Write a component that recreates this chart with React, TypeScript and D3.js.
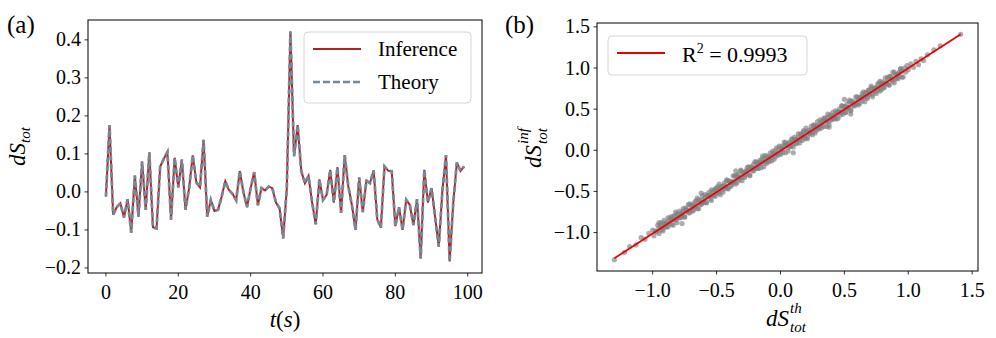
import * as d3 from 'd3';

// (a) entropy production per step (t = 0..99)
const inferenceValues = [
  -0.012, 0.176, -0.06, -0.04, -0.03, -0.067, -0.019, -0.107, 0.043, -0.065,
  0.08, -0.047, 0.104, -0.093, -0.096, 0.067, 0.087, 0.105, -0.073, 0.09,
  0.012, 0.085, -0.047, 0.01, 0.096, 0.025, 0.012, 0.137, -0.065, -0.021,
  -0.05, -0.047, -0.012, 0.028, 0.005, -0.005, -0.022, 0.055, 0.0, -0.04,
  0.01, 0.052, -0.035, 0.01, 0.004, 0.014, 0.01, -0.028, -0.043, -0.122,
  0.01, 0.422, 0.094, 0.176, 0.055, 0.023, 0.042, -0.028, -0.085, 0.033,
  -0.021, -0.008, 0.058, -0.028, 0.065, -0.055, 0.097, 0.015, -0.035, -0.1,
  0.038, -0.053, 0.03, 0.023, 0.057, -0.072, -0.094, 0.067, 0.056, 0.054,
  -0.09, -0.04, -0.1, -0.021, -0.034, -0.087, -0.019, -0.175, 0.058, -0.028,
  0.01, -0.067, -0.144, 0.003, 0.097, -0.183, -0.03, 0.078, 0.055, 0.067,
];
// theory curve lies on top of the inference curve at this resolution
const theoryValues = [...inferenceValues];

const leftXTicks = [0, 20, 40, 60, 80, 100];
const leftYTicks = [-0.2, -0.1, 0.0, 0.1, 0.2, 0.3, 0.4];

// (b) scatter of inferred vs theoretical values
const scatterPoints: [number, number][] = [
  [-1.3, -1.33], [-1.22, -1.24], [-1.18, -1.17], [-1.13, -1.15], [-1.09, -1.06],
  [-1.06, -1.08], [-1.03, -1.01], [-0.95, -0.88], [-0.77, -0.89], [-0.62, -0.52],
  [-0.35, -0.25], [0.1, -0.03], [0.38, 0.28], [0.55, 0.44], [0.5, 0.62],
  [1.02, 1.05], [1.04, 1.01], [1.06, 1.08], [1.08, 1.04], [1.1, 1.11],
  [1.12, 1.09], [1.15, 1.16], [1.2, 1.22], [1.25, 1.27], [1.41, 1.41],
  [-1.0, -0.97], [-0.99, -1.04], [-0.98, -0.98], [-0.97, -0.99], [-0.96, -0.91],
  [-0.95, -1.01], [-0.94, -0.9], [-0.93, -0.94], [-0.92, -0.96], [-0.91, -0.85],
  [-0.9, -0.93], [-0.89, -0.88], [-0.88, -0.93], [-0.87, -0.85], [-0.86, -0.81],
  [-0.85, -0.84], [-0.84, -0.91], [-0.83, -0.8], [-0.82, -0.85], [-0.81, -0.77],
  [-0.8, -0.82], [-0.79, -0.74], [-0.78, -0.82], [-0.77, -0.77], [-0.76, -0.74],
  [-0.75, -0.81], [-0.74, -0.7], [-0.73, -0.74], [-0.72, -0.66], [-0.71, -0.76],
  [-0.7, -0.67], [-0.69, -0.74], [-0.68, -0.68], [-0.67, -0.69], [-0.66, -0.61],
  [-0.65, -0.71], [-0.64, -0.6], [-0.63, -0.64], [-0.62, -0.66], [-0.61, -0.55],
  [-0.6, -0.63], [-0.59, -0.58], [-0.58, -0.63], [-0.57, -0.55], [-0.56, -0.51],
  [-0.55, -0.54], [-0.54, -0.61], [-0.53, -0.5], [-0.52, -0.55], [-0.51, -0.47],
  [-0.5, -0.52], [-0.49, -0.44], [-0.48, -0.52], [-0.47, -0.47], [-0.46, -0.44],
  [-0.45, -0.51], [-0.44, -0.4], [-0.43, -0.44], [-0.42, -0.36], [-0.41, -0.46],
  [-0.4, -0.37], [-0.39, -0.44], [-0.38, -0.38], [-0.37, -0.39], [-0.36, -0.31],
  [-0.35, -0.41], [-0.34, -0.3], [-0.33, -0.34], [-0.32, -0.36], [-0.31, -0.25],
  [-0.3, -0.33], [-0.29, -0.28], [-0.28, -0.33], [-0.27, -0.25], [-0.26, -0.21],
  [-0.25, -0.24], [-0.24, -0.31], [-0.23, -0.2], [-0.22, -0.25], [-0.21, -0.17],
  [-0.2, -0.22], [-0.19, -0.14], [-0.18, -0.22], [-0.17, -0.17], [-0.16, -0.14],
  [-0.15, -0.21], [-0.14, -0.1], [-0.13, -0.14], [-0.12, -0.06], [-0.11, -0.16],
  [-0.1, -0.07], [-0.09, -0.14], [-0.08, -0.08], [-0.07, -0.09], [-0.06, -0.01],
  [-0.05, -0.11], [-0.04, 0.0], [-0.03, -0.04], [-0.02, -0.06], [-0.01, 0.05],
  [0.0, -0.03], [0.01, 0.02], [0.02, -0.03], [0.03, 0.05], [0.04, 0.09],
  [0.05, 0.06], [0.06, -0.01], [0.07, 0.1], [0.08, 0.05], [0.09, 0.13],
  [0.1, 0.08], [0.11, 0.16], [0.12, 0.08], [0.13, 0.13], [0.14, 0.16],
  [0.15, 0.09], [0.16, 0.2], [0.17, 0.16], [0.18, 0.24], [0.19, 0.14],
  [0.2, 0.23], [0.21, 0.16], [0.22, 0.22], [0.23, 0.21], [0.24, 0.29],
  [0.25, 0.19], [0.26, 0.3], [0.27, 0.26], [0.28, 0.24], [0.29, 0.35],
  [0.3, 0.27], [0.31, 0.32], [0.32, 0.27], [0.33, 0.35], [0.34, 0.39],
  [0.35, 0.36], [0.36, 0.29], [0.37, 0.4], [0.38, 0.35], [0.39, 0.43],
  [0.4, 0.38], [0.41, 0.46], [0.42, 0.38], [0.43, 0.43], [0.44, 0.46],
  [0.45, 0.39], [0.46, 0.5], [0.47, 0.46], [0.48, 0.54], [0.49, 0.44],
  [0.5, 0.53], [0.51, 0.46], [0.52, 0.52], [0.53, 0.51], [0.54, 0.59],
  [0.55, 0.49], [0.56, 0.6], [0.57, 0.56], [0.58, 0.54], [0.59, 0.65],
  [0.6, 0.57], [0.61, 0.62], [0.62, 0.57], [0.63, 0.65], [0.64, 0.69],
  [0.65, 0.66], [0.66, 0.59], [0.67, 0.7], [0.68, 0.65], [0.69, 0.73],
  [0.7, 0.68], [0.71, 0.76], [0.72, 0.68], [0.73, 0.73], [0.74, 0.76],
  [0.75, 0.69], [0.76, 0.8], [0.77, 0.76], [0.78, 0.84], [0.79, 0.74],
  [0.8, 0.83], [0.81, 0.76], [0.82, 0.82], [0.83, 0.81], [0.84, 0.89],
  [0.85, 0.79], [0.86, 0.9], [0.87, 0.86], [0.88, 0.84], [0.89, 0.95],
  [0.9, 0.87], [0.91, 0.92], [0.92, 0.87], [0.93, 0.95], [0.94, 0.99],
  [0.95, 0.96], [0.96, 0.89], [0.97, 1.0], [0.98, 0.95], [0.99, 1.03],
  [1.0, 0.98],
  [-0.95, -0.94], [-0.94, -0.97], [-0.93, -0.88], [-0.92, -0.98], [-0.91, -0.89],
  [-0.9, -0.9], [-0.89, -0.93], [-0.88, -0.82], [-0.87, -0.89], [-0.86, -0.83],
  [-0.85, -0.9], [-0.84, -0.8], [-0.83, -0.84], [-0.82, -0.75], [-0.81, -0.88],
  [-0.8, -0.78], [-0.79, -0.82], [-0.78, -0.77], [-0.77, -0.8], [-0.76, -0.71],
  [-0.75, -0.81], [-0.74, -0.72], [-0.73, -0.73], [-0.72, -0.76], [-0.71, -0.65],
  [-0.7, -0.72], [-0.69, -0.66], [-0.68, -0.73], [-0.67, -0.63], [-0.66, -0.67],
  [-0.65, -0.58], [-0.64, -0.71], [-0.63, -0.61], [-0.62, -0.65], [-0.61, -0.6],
  [-0.6, -0.63], [-0.59, -0.54], [-0.58, -0.64], [-0.57, -0.55], [-0.56, -0.56],
  [-0.55, -0.59], [-0.54, -0.48], [-0.53, -0.55], [-0.52, -0.49], [-0.51, -0.56],
  [-0.5, -0.46], [-0.49, -0.5], [-0.48, -0.41], [-0.47, -0.54], [-0.46, -0.44],
  [-0.45, -0.48], [-0.44, -0.43], [-0.43, -0.46], [-0.42, -0.37], [-0.41, -0.47],
  [-0.4, -0.38], [-0.39, -0.39], [-0.38, -0.42], [-0.37, -0.31], [-0.36, -0.38],
  [-0.35, -0.32], [-0.34, -0.39], [-0.33, -0.29], [-0.32, -0.33], [-0.31, -0.24],
  [-0.3, -0.37], [-0.29, -0.27], [-0.28, -0.31], [-0.27, -0.26], [-0.26, -0.29],
  [-0.25, -0.2], [-0.24, -0.3], [-0.23, -0.21], [-0.22, -0.22], [-0.21, -0.25],
  [-0.2, -0.14], [-0.19, -0.21], [-0.18, -0.15], [-0.17, -0.22], [-0.16, -0.12],
  [-0.15, -0.16], [-0.14, -0.07], [-0.13, -0.2], [-0.12, -0.1], [-0.11, -0.14],
  [-0.1, -0.09], [-0.09, -0.12], [-0.08, -0.03], [-0.07, -0.13], [-0.06, -0.04],
  [-0.05, -0.05], [-0.04, -0.08], [-0.03, 0.03], [-0.02, -0.04], [-0.01, 0.02],
  [0.0, -0.05], [0.01, 0.05], [0.02, 0.01], [0.03, 0.1], [0.04, -0.03],
  [0.05, 0.07], [0.06, 0.03], [0.07, 0.08], [0.08, 0.05], [0.09, 0.14],
  [0.1, 0.04], [0.11, 0.13], [0.12, 0.12], [0.13, 0.09], [0.14, 0.2],
  [0.15, 0.13], [0.16, 0.19], [0.17, 0.12], [0.18, 0.22], [0.19, 0.18],
  [0.2, 0.27], [0.21, 0.14], [0.22, 0.24], [0.23, 0.2], [0.24, 0.25],
  [0.25, 0.22], [0.26, 0.31], [0.27, 0.21], [0.28, 0.3], [0.29, 0.29],
  [0.3, 0.26], [0.31, 0.37], [0.32, 0.3], [0.33, 0.36], [0.34, 0.29],
  [0.35, 0.39], [0.36, 0.35], [0.37, 0.44], [0.38, 0.31], [0.39, 0.41],
  [0.4, 0.37], [0.41, 0.42], [0.42, 0.39], [0.43, 0.48], [0.44, 0.38],
  [0.45, 0.47], [0.46, 0.46], [0.47, 0.43], [0.48, 0.54], [0.49, 0.47],
  [0.5, 0.53], [0.51, 0.46], [0.52, 0.56], [0.53, 0.52], [0.54, 0.61],
  [0.55, 0.48], [0.56, 0.58], [0.57, 0.54], [0.58, 0.59], [0.59, 0.56],
  [0.6, 0.65], [0.61, 0.55], [0.62, 0.64], [0.63, 0.63], [0.64, 0.6],
  [0.65, 0.71], [0.66, 0.64], [0.67, 0.7], [0.68, 0.63], [0.69, 0.73],
  [0.7, 0.69], [0.71, 0.78], [0.72, 0.65], [0.73, 0.75], [0.74, 0.71],
  [0.75, 0.76], [0.76, 0.73], [0.77, 0.82], [0.78, 0.72], [0.79, 0.81],
  [0.8, 0.8], [0.81, 0.77], [0.82, 0.88], [0.83, 0.81], [0.84, 0.87],
  [0.85, 0.8], [0.86, 0.9], [0.87, 0.86], [0.88, 0.95], [0.89, 0.82],
  [0.9, 0.92], [0.91, 0.88], [0.92, 0.93], [0.93, 0.9], [0.94, 0.99],
  [0.95, 0.89],
];
const fitTh = [-1.3, 1.41];
const fitInf = [-1.313, 1.41];
const rightTicks = [-1.0, -0.5, 0.0, 0.5, 1.0, 1.5];

const FONT = "'Times New Roman', Tinos, 'Liberation Serif', 'DejaVu Serif', 'Noto Serif', serif";
const RED = '#b22222';
const SLATE = '#778899';

function padded(ext: [number, number]): [number, number] {
  const d = (ext[1] - ext[0]) * 0.05;
  return [ext[0] - d, ext[1] + d];
}

export default function App() {
  const fmt = d3.format('.1f');

  // left panel
  const a = { left: 88, right: 482, top: 20, bottom: 273 };
  const x = d3
    .scaleLinear()
    .domain(padded([0, inferenceValues.length - 1]))
    .range([a.left, a.right]);
  const y = d3
    .scaleLinear()
    .domain(padded(d3.extent([...inferenceValues, ...theoryValues]) as [number, number]))
    .range([a.bottom, a.top]);
  const line = d3
    .line<number>()
    .x((_, i) => x(i))
    .y((d) => y(d));

  // right panel
  const b = { left: 597, right: 978, top: 23, bottom: 271 };
  const sx = d3
    .scaleLinear()
    .domain(padded(d3.extent(scatterPoints, (p) => p[0]) as [number, number]))
    .range([b.left, b.right]);
  const sy = d3
    .scaleLinear()
    .domain(padded(d3.extent(scatterPoints, (p) => p[1]) as [number, number]))
    .range([b.bottom, b.top]);

  return (
    <div style={{ position: 'absolute', left: 0, top: 0 }}>
      <svg width={996} height={338} style={{ display: 'block', fontFamily: FONT }}>
        <rect width={996} height={338} fill="#fff" />

        {/* ---- (a) ---- */}
        <text x={7} y={33} fontSize={25}>(a)</text>
        <path d={line(inferenceValues) ?? ''} fill="none" stroke={RED} strokeWidth={2} />
        <path
          d={line(theoryValues) ?? ''}
          fill="none"
          stroke={SLATE}
          strokeWidth={2.8}
          strokeDasharray="5 3.5"
        />
        <rect
          x={a.left}
          y={a.top}
          width={a.right - a.left}
          height={a.bottom - a.top}
          fill="none"
          stroke="#000"
          strokeWidth={1}
        />
        {leftXTicks.map((t) => (
          <g key={'lx' + t}>
            <line x1={x(t)} x2={x(t)} y1={a.bottom} y2={a.bottom + 3.5} stroke="#000" strokeWidth={0.8} />
            <text x={x(t)} y={a.bottom + 26} fontSize={20} textAnchor="middle">
              {t}
            </text>
          </g>
        ))}
        {leftYTicks.map((t) => (
          <g key={'ly' + t}>
            <line x1={a.left - 3.5} x2={a.left} y1={y(t)} y2={y(t)} stroke="#000" strokeWidth={0.8} />
            <text x={a.left - 7} y={y(t) + 6.5} fontSize={20} textAnchor="end">
              {fmt(t)}
            </text>
          </g>
        ))}
        <text x={(a.left + a.right) / 2} y={327} fontSize={23} textAnchor="middle">
          <tspan fontStyle="italic">t</tspan>(<tspan fontStyle="italic">s</tspan>)
        </text>
        <text transform={`translate(25,${(a.top + a.bottom) / 2}) rotate(-90)`} fontSize={23} textAnchor="middle">
          <tspan fontStyle="italic">dS</tspan>
          <tspan fontStyle="italic" fontSize={15} dy={5}>tot</tspan>
        </text>

        {/* legend (a) */}
        <rect x={304} y={32} width={167} height={71} rx={4} fill="#fff" fillOpacity={0.8} stroke="#d6d6d6" />
        <line x1={313} x2={361} y1={49} y2={49} stroke={RED} strokeWidth={2} />
        <line x1={313} x2={361} y1={82} y2={82} stroke={SLATE} strokeWidth={2.4} strokeDasharray="7 3" />
        <text x={378} y={56} fontSize={21}>Inference</text>
        <text x={378} y={89} fontSize={21}>Theory</text>

        {/* ---- (b) ---- */}
        <text x={505} y={33} fontSize={25}>(b)</text>
        <g fill="#7f7f7f" fillOpacity={0.65}>
          {scatterPoints.map((p, i) => (
            <circle key={i} cx={sx(p[0])} cy={sy(p[1])} r={2.6} />
          ))}
        </g>
        <line
          x1={sx(fitTh[0])}
          x2={sx(fitTh[1])}
          y1={sy(fitInf[0])}
          y2={sy(fitInf[1])}
          stroke="#e8000b"
          strokeWidth={1.8}
        />
        <rect
          x={b.left}
          y={b.top}
          width={b.right - b.left}
          height={b.bottom - b.top}
          fill="none"
          stroke="#000"
          strokeWidth={1}
        />
        {rightTicks.map((t) => (
          <g key={'rx' + t}>
            <line x1={sx(t)} x2={sx(t)} y1={b.bottom} y2={b.bottom + 3.5} stroke="#000" strokeWidth={0.8} />
            <text x={sx(t)} y={b.bottom + 26} fontSize={20} textAnchor="middle">
              {fmt(t)}
            </text>
          </g>
        ))}
        {rightTicks.map((t) => (
          <g key={'ry' + t}>
            <line x1={b.left - 3.5} x2={b.left} y1={sy(t)} y2={sy(t)} stroke="#000" strokeWidth={0.8} />
            <text x={b.left - 7} y={sy(t) + 6.5} fontSize={20} textAnchor="end">
              {fmt(t)}
            </text>
          </g>
        ))}
        <g fontStyle="italic" fontSize={23}>
          <text x={766} y={326}>dS</text>
          <text x={790} y={313} fontSize={15}>th</text>
          <text x={790} y={332} fontSize={15}>tot</text>
        </g>
        <g transform={`translate(541,${(b.top + b.bottom) / 2}) rotate(-90)`} fontStyle="italic" fontSize={23}>
          <text x={-21} y={0}>dS</text>
          <text x={3} y={-13} fontSize={15}>inf</text>
          <text x={3} y={6} fontSize={15}>tot</text>
        </g>

        {/* legend (b) */}
        <rect x={608} y={36} width={199} height={39} rx={4} fill="#fff" fillOpacity={0.8} stroke="#d6d6d6" />
        <line x1={617} x2={665} y1={53} y2={53} stroke="#e8000b" strokeWidth={1.8} />
        <text x={682} y={62} fontSize={22}>
          R<tspan fontSize={14} dy={-9}>2</tspan>
          <tspan dy={9}> = 0.9993</tspan>
        </text>
      </svg>
    </div>
  );
}
